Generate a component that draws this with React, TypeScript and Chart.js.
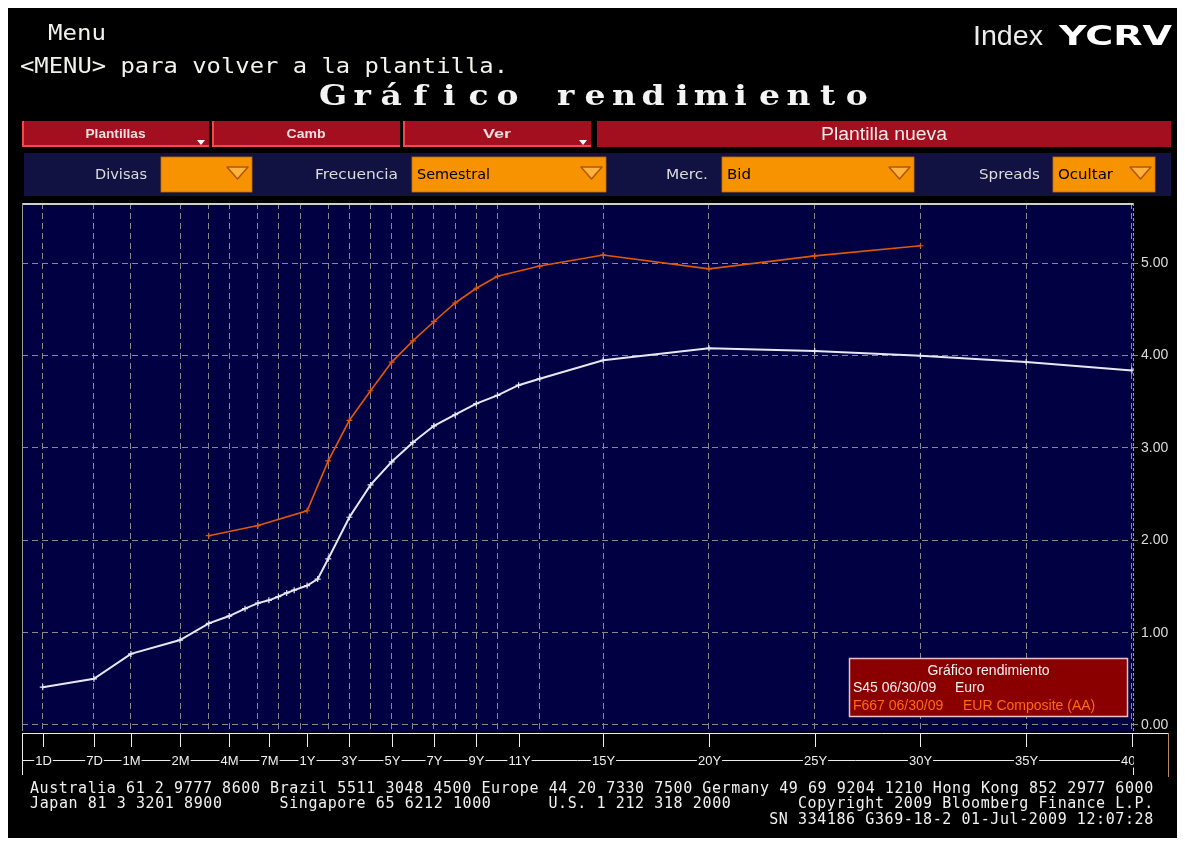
import React, { useEffect, useRef } from "react";
import { Chart, registerables } from "chart.js";

Chart.register(...registerables);

// ---------------- data ----------------
const EURO_TENORS = ["1D", "7D", "1M", "2M", "3M", "4M", "5M", "6M", "7M", "8M", "9M", "10M", "1Y", "18M", "2Y", "3Y", "4Y", "5Y", "6Y", "7Y", "8Y", "9Y", "10Y", "11Y", "12Y", "15Y", "20Y", "25Y", "30Y", "35Y", "40Y"];
const EURO_YIELDS = [0.41, 0.50, 0.77, 0.92, 1.10, 1.18, 1.26, 1.32, 1.35, 1.39, 1.43, 1.46, 1.51, 1.58, 1.80, 2.25, 2.60, 2.85, 3.06, 3.24, 3.36, 3.48, 3.57, 3.68, 3.75, 3.95, 4.08, 4.05, 4.00, 3.93, 3.84];

const COMPOSITE_TENORS = ["3M", "6M", "1Y", "2Y", "3Y", "4Y", "5Y", "6Y", "7Y", "8Y", "9Y", "10Y", "12Y", "15Y", "20Y", "25Y", "30Y"];
const COMPOSITE_YIELDS = [2.05, 2.16, 2.32, 2.86, 3.30, 3.62, 3.93, 4.16, 4.37, 4.57, 4.73, 4.86, 4.97, 5.09, 4.94, 5.08, 5.19];

const SERIES_NAMES = ["Euro", "EUR Composite (AA)"];
const SERIES_CODES = ["S45 06/30/09", "F667 06/30/09"];

const X_TICK_LABELS = ["1D", "7D", "1M", "2M", "4M", "7M", "1Y", "3Y", "5Y", "7Y", "9Y", "11Y", "15Y", "20Y", "25Y", "30Y", "35Y", "40Y"];
const X_GRID_TENORS = ["1D", "7D", "1M", "2M", "3M", "4M", "6M", "8M", "11M", "2Y", "3Y", "4Y", "5Y", "6Y", "7Y", "8Y", "9Y", "10Y", "12Y", "15Y", "20Y", "25Y", "30Y", "35Y", "40Y"];
const Y_TICKS = [0, 1, 2, 3, 4, 5];

// axis definition: the short end (< 1Y) is compressed on a log scale
const SHORT_END_KNOTS: [number, number][] = [
  [1 / 360, -11.5],
  [7 / 360, -9.08],
  [1 / 12, -7.33],
  [1, 1],
];
const X_MIN = -12.48;
const X_MAX = 40.05;
const Y_MIN = -0.065;
const Y_MAX = 5.653;

const FOOTER_LINE_1 = "Australia 61 2 9777 8600 Brazil 5511 3048 4500 Europe 44 20 7330 7500 Germany 49 69 9204 1210 Hong Kong 852 2977 6000";
const FOOTER_LINE_2: [string, number][] = [
  ["Japan 81 3 3201 8900", 0],
  ["Singapore 65 6212 1000", 26],
  ["U.S. 1 212 318 2000", 54],
  ["Copyright 2009 Bloomberg Finance L.P.", 80],
];
const FOOTER_LINE_3 = "SN 334186 G369-18-2 01-Jul-2009 12:07:28";

const TITLE = "Gráfico rendimiento";

// ---------------- fonts / colours ----------------
const MONO = "'DejaVu Sans Mono', monospace";
const SANS = "'Liberation Sans', Arial, sans-serif";
const DVS = "'DejaVu Sans', sans-serif";
const SERIF = "'DejaVu Serif', serif";

const NAVY = "#000042";
const GRID = "#8a8a8a";
const WHITE_LINE = "#e8e8f4";
const ORANGE_LINE = "#e0580a";

function tenorYears(t: string): number {
  const n = parseFloat(t);
  const u = t.slice(-1);
  if (u === "D") return n / 360;
  if (u === "M") return n / 12;
  return n;
}

function axisPos(years: number): number {
  if (years >= 1) return years;
  const k = SHORT_END_KNOTS;
  const lx = Math.log(years);
  for (let i = 0; i < k.length - 1; i++) {
    const [t0, p0] = k[i];
    const [t1, p1] = k[i + 1];
    if (years <= t1 || i === k.length - 2) {
      const f = (lx - Math.log(t0)) / (Math.log(t1) - Math.log(t0));
      return p0 + f * (p1 - p0);
    }
  }
  return years;
}

function seg(ctx: CanvasRenderingContext2D, x1: number, y1: number, x2: number, y2: number) {
  ctx.beginPath();
  ctx.moveTo(x1, y1);
  ctx.lineTo(x2, y2);
  ctx.stroke();
}

const framePlugin = {
  id: "bbgFrame",
  beforeDraw(chart: any) {
    const { ctx, chartArea: a } = chart;
    ctx.save();
    ctx.fillStyle = NAVY;
    ctx.fillRect(a.left, a.top, a.right - a.left, a.bottom - a.top);
    ctx.restore();
  },
  afterDraw(chart: any) {
    const { ctx, chartArea: a, scales } = chart;
    const x = scales.x;
    ctx.save();
    // top frame line
    ctx.strokeStyle = "#cfcfcf";
    ctx.lineWidth = 2;
    seg(ctx, a.left, a.top + 1, a.right, a.top + 1);
    // left edge
    ctx.lineWidth = 1;
    ctx.strokeStyle = "#9a9a9a";
    seg(ctx, a.left + 0.5, a.top, a.left + 0.5, a.bottom);
    // right axis (dotted)
    ctx.setLineDash([3, 2]);
    seg(ctx, a.right + 0.5, a.top, a.right + 0.5, a.bottom);
    ctx.setLineDash([]);

    // x-axis band
    const top = a.bottom + 2;
    ctx.fillStyle = "#000";
    ctx.fillRect(0, top, chart.width, chart.height - top);
    ctx.strokeStyle = "#ececec";
    ctx.lineWidth = 1;
    seg(ctx, a.left, top + 0.5, a.right + 35, top + 0.5);
    seg(ctx, a.left + 0.5, top, a.left + 0.5, top + 42);
    const ly = top + 27.5;
    seg(ctx, a.left, ly, a.right, ly);
    seg(ctx, a.right + 0.5, ly, a.right + 0.5, top + 42);
    const pxs = X_TICK_LABELS.map((t) => Math.round(x.getPixelForValue(axisPos(tenorYears(t)))) + 0.5);
    pxs.forEach((px) => seg(ctx, px, top, px, top + 14));
    ctx.save();
    ctx.beginPath();
    ctx.rect(0, top, a.right + 1, 60);
    ctx.clip();
    ctx.font = `13px ${SANS}`;
    ctx.textAlign = "center";
    ctx.textBaseline = "middle";
    X_TICK_LABELS.forEach((lab, i) => {
      const w = ctx.measureText(lab).width;
      ctx.fillStyle = "#000";
      ctx.fillRect(pxs[i] - w / 2 - 1, ly - 7, w + 2, 14);
      ctx.fillStyle = "#f0f0f0";
      ctx.fillText(lab, pxs[i], ly + 0.5);
    });
    ctx.restore();
    ctx.strokeStyle = "#b58a4a";
    seg(ctx, a.right + 35.5, top, a.right + 35.5, top + 44);
    ctx.restore();
  },
};

export default function App() {
  const canvasRef = useRef<HTMLCanvasElement>(null);

  useEffect(() => {
    const euro = EURO_TENORS.map((t, i) => ({ x: axisPos(tenorYears(t)), y: EURO_YIELDS[i] }));
    const comp = COMPOSITE_TENORS.map((t, i) => ({ x: axisPos(tenorYears(t)), y: COMPOSITE_YIELDS[i] }));
    const chart = new Chart(canvasRef.current as HTMLCanvasElement, {
      type: "line",
      data: {
        datasets: [
          {
            label: SERIES_NAMES[0],
            data: euro,
            borderColor: WHITE_LINE,
            backgroundColor: WHITE_LINE,
            borderWidth: 2,
            pointStyle: "cross",
            pointRadius: 3,
            pointBorderWidth: 1.2,
            pointBorderColor: WHITE_LINE,
            tension: 0,
            fill: false,
          },
          {
            label: SERIES_NAMES[1],
            data: comp,
            borderColor: ORANGE_LINE,
            backgroundColor: ORANGE_LINE,
            borderWidth: 1.6,
            pointStyle: "cross",
            pointRadius: 3,
            pointBorderWidth: 1.2,
            pointBorderColor: ORANGE_LINE,
            tension: 0,
            fill: false,
          },
        ],
      },
      options: {
        responsive: false,
        animation: false,
        events: [],
        layout: { autoPadding: false, padding: { left: 0, right: 0, top: 0, bottom: 47 } },
        plugins: { legend: { display: false }, tooltip: { enabled: false } },
        scales: {
          x: {
            type: "linear",
            min: X_MIN,
            max: X_MAX,
            afterBuildTicks: (s: any) => {
              s.ticks = X_GRID_TENORS.map((t) => ({ value: axisPos(tenorYears(t)) }));
            },
            afterFit: (s: any) => {
              s.height = 0;
              s.paddingLeft = 0;
              s.paddingRight = 0;
              s.paddingTop = 0;
              s.paddingBottom = 0;
            },
            ticks: { display: false },
            grid: { color: GRID, lineWidth: 1, drawTicks: false },
            border: { display: false, dash: [6, 4] },
          },
          y: {
            position: "right",
            min: Y_MIN,
            max: Y_MAX,
            afterBuildTicks: (s: any) => {
              s.ticks = Y_TICKS.map((v) => ({ value: v }));
            },
            afterFit: (s: any) => {
              s.width = 39;
              s.paddingTop = 0;
              s.paddingBottom = 0;
              s.paddingLeft = 0;
              s.paddingRight = 0;
            },
            ticks: {
              color: "#dcdcdc",
              font: { family: SANS, size: 14 },
              padding: 3,
              callback: (v: any) => Number(v).toFixed(2),
            },
            grid: { color: GRID, lineWidth: 1, drawTicks: true, tickLength: 5, tickColor: GRID },
            border: { display: false, dash: [6, 4] },
          },
        },
      } as any,
      plugins: [framePlugin],
    });
    return () => chart.destroy();
  }, []);

  const buttons = [
    { label: "Plantillas", x0: 22, x1: 209, w: 60, arrow: true },
    { label: "Camb", x0: 212, x1: 400, w: 39, arrow: false },
    { label: "Ver", x0: 403, x1: 591, w: 28, arrow: true },
  ];
  const fields = [
    { label: "Divisas", labelEnd: 147, labelW: 52, x0: 161, x1: 252, value: "", valueW: 0 },
    { label: "Frecuencia", labelEnd: 398, labelW: 83, x0: 412, x1: 606, value: "Semestral", valueW: 73 },
    { label: "Merc.", labelEnd: 708, labelW: 42, x0: 722, x1: 914, value: "Bid", valueW: 24 },
    { label: "Spreads", labelEnd: 1040, labelW: 61, x0: 1053, x1: 1155, value: "Ocultar", valueW: 55 },
  ];
  const TSX = 1.22;
  const titleXs = TITLE.split("").map((_, i) => ((333 + i * 29.1) / TSX).toFixed(2)).join(" ");
  const CH = 9.6;

  return (
    <div style={{ position: "fixed", left: 0, top: 0, width: 1185, height: 845, background: "#fff", overflow: "hidden" }}>
      <div style={{ position: "absolute", left: 8, top: 8, width: 1169, height: 830, background: "#000" }} />
      <canvas
        ref={canvasRef}
        width={1150}
        height={575}
        style={{ position: "absolute", left: 22, top: 203, width: 1150, height: 575 }}
      />
      <svg width={1185} height={845} style={{ position: "absolute", left: 0, top: 0, pointerEvents: "none" }}>
        {/* header */}
        <text x={48} y={40} fontFamily={MONO} fontSize={20.5} fill="#f2f2ec" textLength={58} lengthAdjust="spacingAndGlyphs">
          Menu
        </text>
        <text x={20} y={73} fontFamily={MONO} fontSize={20.5} fill="#f2f2ec" textLength={488} lengthAdjust="spacingAndGlyphs">
          {"<MENU> para volver a la plantilla."}
        </text>
        <text
          x={titleXs}
          y={105}
          transform={`scale(${TSX},1)`}
          fontFamily={SERIF}
          fontWeight="bold"
          fontSize={27}
          fill="#f4f4f4"
          textAnchor="middle"
        >
          {TITLE}
        </text>
        <text x={973} y={45} fontFamily={SANS} fontSize={27} fill="#ececec" textLength={70} lengthAdjust="spacingAndGlyphs">
          Index
        </text>
        <text x={1059} y={45} fontFamily={DVS} fontWeight="bold" fontSize={27} fill="#ffffff" textLength={113} lengthAdjust="spacingAndGlyphs">
          YCRV
        </text>

        {/* toolbar row 1 */}
        {buttons.map((b) => (
          <g key={b.label}>
            <rect x={b.x0} y={121} width={b.x1 - b.x0} height={26} fill="#a30f1f" />
            <line x1={b.x0 + 1} y1={121} x2={b.x0 + 1} y2={147} stroke="#f24a4a" strokeWidth={2} />
            <line x1={b.x0} y1={146} x2={b.x1} y2={146} stroke="#f24a4a" strokeWidth={2} />
            <text
              x={(b.x0 + b.x1) / 2}
              y={138}
              textAnchor="middle"
              fontFamily={SANS}
              fontWeight="bold"
              fontSize={12}
              fill="#eedede"
              textLength={b.w}
              lengthAdjust="spacingAndGlyphs"
            >
              {b.label}
            </text>
            {b.arrow && <polygon points={`${b.x1 - 12},140 ${b.x1 - 4},140 ${b.x1 - 8},145`} fill="#ffffff" />}
          </g>
        ))}
        <rect x={597} y={121} width={574} height={26} fill="#a30f1f" />
        <text x={884} y={140} textAnchor="middle" fontFamily={SANS} fontSize={18} fill="#f4ecec" textLength={126} lengthAdjust="spacingAndGlyphs">
          Plantilla nueva
        </text>

        {/* toolbar row 2 */}
        <rect x={24} y={153} width={1147} height={43} fill="#111142" />
        {fields.map((f) => (
          <g key={f.label}>
            <text x={f.labelEnd} y={179} textAnchor="end" fontFamily={DVS} fontSize={14} fill="#dcdcdc" textLength={f.labelW} lengthAdjust="spacingAndGlyphs">
              {f.label}
            </text>
            <rect x={f.x0} y={157} width={f.x1 - f.x0} height={35} fill="#f79200" stroke="#c86e00" strokeWidth={0.8} />
            {f.value && (
              <text x={f.x0 + 5} y={179} fontFamily={DVS} fontSize={14} fill="#000" textLength={f.valueW} lengthAdjust="spacingAndGlyphs">
                {f.value}
              </text>
            )}
            <polygon
              points={`${f.x1 - 25},167 ${f.x1 - 4},167 ${f.x1 - 14.5},179`}
              fill="#ffb23e"
              stroke="#b05800"
              strokeWidth={1.5}
              strokeLinejoin="round"
            />
          </g>
        ))}

        {/* legend */}
        <rect x={849.5} y={658.5} width={278} height={58} fill="#8a0000" stroke="#e6c4c4" strokeWidth={1.5} />
        <text x={988.5} y={675} textAnchor="middle" fontFamily={SANS} fontSize={14} fill="#f2f2f2">
          {TITLE}
        </text>
        <text x={853} y={692} fontFamily={SANS} fontSize={14} fill="#f2f2f2">
          {SERIES_CODES[0]}
        </text>
        <text x={955} y={692} fontFamily={SANS} fontSize={14} fill="#f2f2f2">
          {SERIES_NAMES[0]}
        </text>
        <text x={853} y={710} fontFamily={SANS} fontSize={14} fill="#ff6a10">
          {SERIES_CODES[1]}
        </text>
        <text x={963} y={710} fontFamily={SANS} fontSize={14} fill="#ff6a10">
          {SERIES_NAMES[1]}
        </text>

        {/* footer */}
        <text x={30} y={793} fontFamily={MONO} fontSize={15} fill="#f0f0f0" textLength={FOOTER_LINE_1.length * CH} lengthAdjust="spacing">
          {FOOTER_LINE_1}
        </text>
        {FOOTER_LINE_2.map(([s, col]) => (
          <text key={s} x={30 + col * CH} y={808} fontFamily={MONO} fontSize={15} fill="#f0f0f0" textLength={s.length * CH} lengthAdjust="spacing">
            {s}
          </text>
        ))}
        <text x={30 + 77 * CH} y={824} fontFamily={MONO} fontSize={15} fill="#f0f0f0" textLength={FOOTER_LINE_3.length * CH} lengthAdjust="spacing">
          {FOOTER_LINE_3}
        </text>
      </svg>
    </div>
  );
}
